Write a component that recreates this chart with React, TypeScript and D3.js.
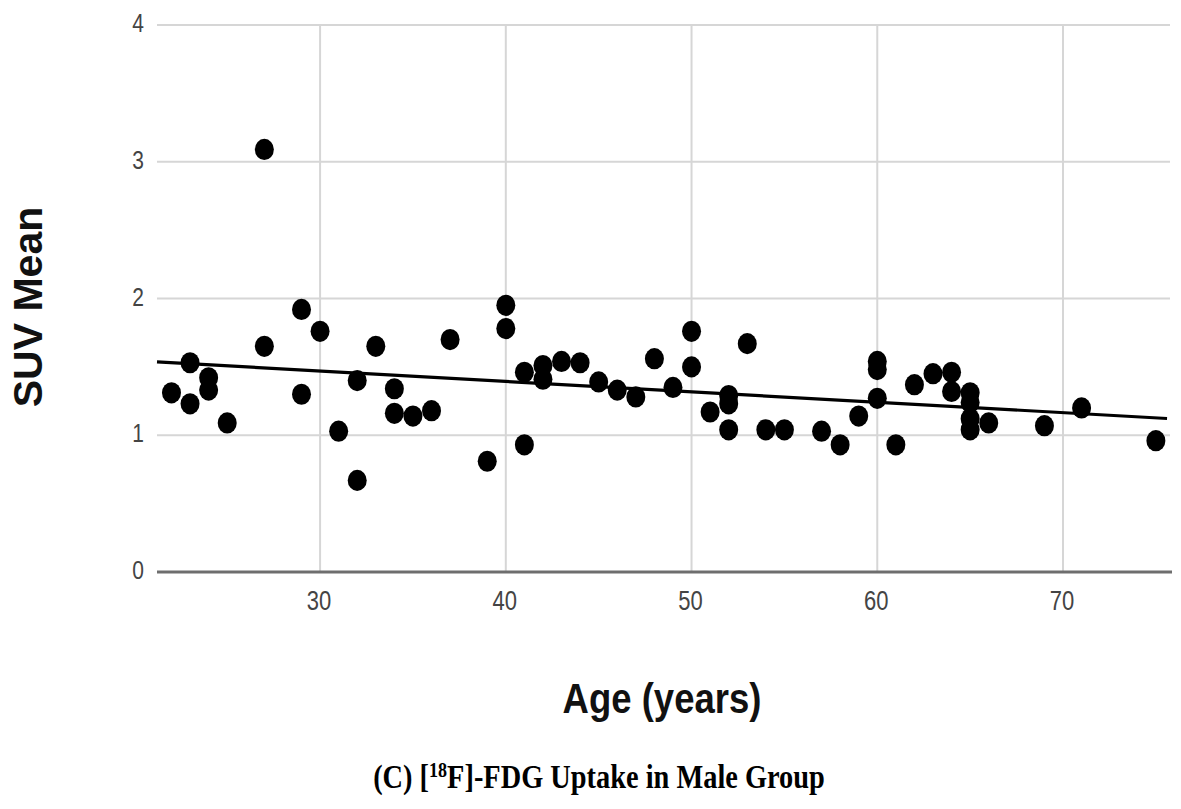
import React, { useRef, useEffect } from "react";
import * as d3 from "d3";

// SUV mean per subject, male group
const ages = [
  22, 23, 23, 24, 24, 25, 27, 27, 29, 29, 30, 31, 32, 32, 33, 34, 34, 35, 36, 37,
  39, 40, 40, 41, 41, 42, 42, 43, 44, 45, 46, 47, 48, 49, 50, 50, 51, 52, 52, 52,
  53, 54, 55, 57, 58, 59, 60, 60, 60, 61, 62, 63, 64, 64, 65, 65, 65, 65, 66, 69,
  71, 75,
];
const suvMean = [
  1.31, 1.53, 1.23, 1.42, 1.33, 1.09, 3.09, 1.65, 1.92, 1.3, 1.76, 1.03, 1.4, 0.67,
  1.65, 1.34, 1.16, 1.14, 1.18, 1.7, 0.81, 1.95, 1.78, 1.46, 0.93, 1.51, 1.41, 1.54,
  1.53, 1.39, 1.33, 1.28, 1.56, 1.35, 1.76, 1.5, 1.17, 1.29, 1.23, 1.04, 1.67, 1.04,
  1.04, 1.03, 0.93, 1.14, 1.54, 1.48, 1.27, 0.93, 1.37, 1.45, 1.46, 1.32, 1.31, 1.24,
  1.12, 1.04, 1.09, 1.07, 1.2, 0.96,
];

const xTicks = [30, 40, 50, 60, 70];
const yTicks = [0, 1, 2, 3, 4];

// linear trend line
const trendIntercept = 1.698;
const trendSlope = -0.00761;

const xDomain = [21.22, 75.76];
const yDomain = [0, 4];

const App = () => {
  const svgRef = useRef(null);

  useEffect(() => {
    const svg = d3.select(svgRef.current);
    svg.selectAll("*").remove();

    const width = 1181;
    const height = 809;
    const left = 157;
    const right = 1170;
    const top = 25;
    const bottom = 572;

    const x = d3.scaleLinear().domain(xDomain).range([left, right]);
    const y = d3.scaleLinear().domain(yDomain).range([bottom, top]);

    svg.attr("width", width).attr("height", height);
    svg.append("rect").attr("width", width).attr("height", height).attr("fill", "#fff");

    const font = "'Liberation Sans', Arial, sans-serif";

    // horizontal gridlines
    svg
      .append("g")
      .selectAll("line")
      .data(yTicks.filter((d) => d !== 0))
      .join("line")
      .attr("x1", left)
      .attr("x2", right)
      .attr("y1", (d) => y(d))
      .attr("y2", (d) => y(d))
      .attr("stroke", "#d6d6d6")
      .attr("stroke-width", 2);

    // vertical gridlines
    svg
      .append("g")
      .selectAll("line")
      .data(xTicks)
      .join("line")
      .attr("x1", (d) => x(d))
      .attr("x2", (d) => x(d))
      .attr("y1", top)
      .attr("y2", bottom)
      .attr("stroke", "#d6d6d6")
      .attr("stroke-width", 2);

    // baseline
    svg
      .append("line")
      .attr("x1", left)
      .attr("x2", right + 2)
      .attr("y1", y(0))
      .attr("y2", y(0))
      .attr("stroke", "#6e6e6e")
      .attr("stroke-width", 3);

    // y tick labels
    svg
      .append("g")
      .selectAll("text")
      .data(yTicks)
      .join("text")
      .attr("transform", (d) => `translate(144,${y(d) + 7}) scale(1,1.2)`)
      .attr("text-anchor", "end")
      .attr("font-family", font)
      .attr("font-size", 21)
      .attr("fill", "#444")
      .text((d) => d);

    // x tick labels
    svg
      .append("g")
      .selectAll("text")
      .data(xTicks)
      .join("text")
      .attr("transform", (d) => `translate(${x(d) - 1},610) scale(1,1.25)`)
      .attr("text-anchor", "middle")
      .attr("font-family", font)
      .attr("font-size", 22)
      .attr("fill", "#444")
      .text((d) => d);

    // trend line
    svg
      .append("line")
      .attr("x1", x(xDomain[0]))
      .attr("x2", x(75.6))
      .attr("y1", y(trendIntercept + trendSlope * xDomain[0]))
      .attr("y2", y(trendIntercept + trendSlope * 75.6))
      .attr("stroke", "#000")
      .attr("stroke-width", 3.2);

    // points
    svg
      .append("g")
      .selectAll("ellipse")
      .data(ages.map((a, i) => ({ age: a, suv: suvMean[i] })))
      .join("ellipse")
      .attr("cx", (d) => x(d.age))
      .attr("cy", (d) => y(d.suv))
      .attr("rx", 9.5)
      .attr("ry", 10.6)
      .attr("fill", "#000");

    // axis titles
    svg
      .append("text")
      .attr("transform", "translate(42,307) rotate(-90)")
      .attr("text-anchor", "middle")
      .attr("font-family", font)
      .attr("font-weight", "bold")
      .attr("font-size", 41)
      .attr("fill", "#111")
      .text("SUV Mean");

    svg
      .append("text")
      .attr("transform", "translate(662,713) scale(1,1.15)")
      .attr("text-anchor", "middle")
      .attr("font-family", font)
      .attr("font-weight", "bold")
      .attr("font-size", 36.5)
      .attr("fill", "#111")
      .text("Age (years)");

    // caption
    const caption = svg
      .append("text")
      .attr("transform", "translate(599,788) scale(0.86,1)")
      .attr("text-anchor", "middle")
      .attr("font-family", "'Liberation Serif', 'Times New Roman', serif")
      .attr("font-weight", "bold")
      .attr("font-size", 33)
      .attr("fill", "#000");
    caption.append("tspan").text("(C) [");
    caption.append("tspan").attr("font-size", 21).attr("dy", -11).text("18");
    caption.append("tspan").attr("dy", 11).text("F]-FDG Uptake in Male Group");
  }, []);

  return (
    <svg
      ref={svgRef}
      width={1181}
      height={809}
      style={{ position: "absolute", left: 0, top: 0, display: "block" }}
    />
  );
};

export default App;
